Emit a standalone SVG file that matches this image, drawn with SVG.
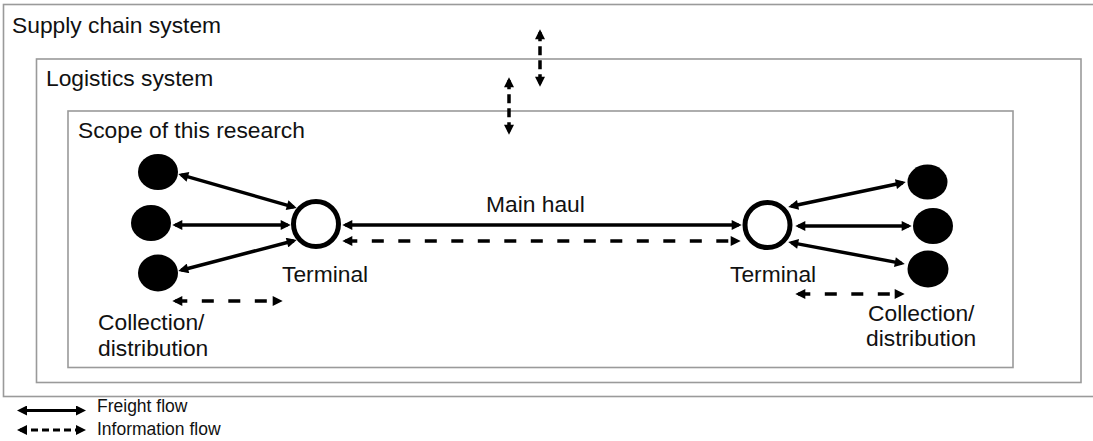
<svg xmlns="http://www.w3.org/2000/svg" width="1093" height="441" viewBox="0 0 1093 441">
  <style>
    .box { fill: none; stroke: #9a9a9a; stroke-width: 1.6; }
    .lbl { font-family: "Liberation Sans", Arial, sans-serif; font-size: 22.8px; fill: #111; }
    .leg { font-family: "Liberation Sans", Arial, sans-serif; font-size: 17.5px; fill: #111; }
    .solid { stroke: #000; stroke-width: 3.5; fill: none; marker-start: url(#ah); marker-end: url(#ah); }
    .dash { stroke: #000; stroke-width: 3.5; fill: none; stroke-dasharray: 12 14.5; marker-start: url(#ah); marker-end: url(#ah); }
    .vdash { stroke: #000; stroke-width: 3.5; fill: none; stroke-dasharray: 9 5; marker-start: url(#ah); marker-end: url(#ah); }
    .ldash { stroke: #000; stroke-width: 3.2; fill: none; stroke-dasharray: 7 4; marker-start: url(#ah); marker-end: url(#ah); }
    .node { fill: #000; }
    .term { fill: #fff; stroke: #000; stroke-width: 5; }
  </style>
  <defs>
    <marker id="ah" viewBox="0 0 10 10" markerUnits="userSpaceOnUse" markerWidth="11" markerHeight="10" refX="7" refY="5" orient="auto-start-reverse">
      <path d="M0,0 L10,5 L0,10 z" fill="#000"/>
    </marker>
  </defs>

  <g id="supply-chain-system">
    <rect class="box" x="3.5" y="4.5" width="1100" height="392"/>
    <text class="lbl" x="12" y="33">Supply chain system</text>
  </g>
  <g id="logistics-system">
    <rect class="box" x="36.5" y="59" width="1044.5" height="323.5"/>
    <text class="lbl" x="46" y="86">Logistics system</text>
  </g>
  <g id="scope">
    <rect class="box" x="68" y="111" width="945" height="256.5"/>
    <text class="lbl" x="78" y="138">Scope of this research</text>
  </g>

  <g id="connectors">
    <line class="vdash" x1="540" y1="32.3" x2="540" y2="83.7"/>
    <line class="vdash" x1="509" y1="80.3" x2="509" y2="131.7"/>
    <line class="solid" x1="181.2" y1="174.9" x2="293.8" y2="207.1"/>
    <line class="solid" x1="175.3" y1="225" x2="287.7" y2="225"/>
    <line class="solid" x1="181.2" y1="270.2" x2="293.8" y2="240.8"/>
    <line class="solid" x1="345.3" y1="225" x2="738.7" y2="225"/>
    <line class="dash" x1="345.3" y1="241" x2="737.7" y2="241"/>
    <line class="solid" x1="791.2" y1="206.3" x2="902.8" y2="182.7"/>
    <line class="solid" x1="798.3" y1="226" x2="908.7" y2="226"/>
    <line class="solid" x1="791.2" y1="242.6" x2="901.8" y2="263.4"/>
    <line class="dash" x1="175.3" y1="301" x2="279.7" y2="301"/>
    <line class="dash" x1="798.3" y1="294" x2="901.7" y2="294"/>
  </g>

  <g id="source-nodes-left">
    <ellipse class="node" cx="158" cy="172" rx="20" ry="18"/>
    <ellipse class="node" cx="151" cy="223" rx="20" ry="18"/>
    <ellipse class="node" cx="158" cy="273" rx="20" ry="18.5"/>
  </g>
  <g id="terminal-left">
    <circle class="term" cx="316" cy="224" r="22.5"/>
    <text class="lbl" x="282" y="282">Terminal</text>
  </g>
  <g id="terminal-right">
    <circle class="term" cx="767.5" cy="225" r="22.5"/>
    <text class="lbl" x="730" y="282">Terminal</text>
  </g>
  <g id="dest-nodes-right">
    <ellipse class="node" cx="927.5" cy="182" rx="20" ry="17.5"/>
    <ellipse class="node" cx="933" cy="226" rx="20" ry="18"/>
    <ellipse class="node" cx="928" cy="269" rx="20.5" ry="18.5"/>
  </g>

  <g id="main-haul-label">
    <text class="lbl" x="486" y="212">Main haul</text>
  </g>
  <g id="collection-left">
    <text class="lbl" x="98" y="330">Collection/</text>
    <text class="lbl" x="98" y="356">distribution</text>
  </g>
  <g id="collection-right">
    <text class="lbl" x="868" y="321">Collection/</text>
    <text class="lbl" x="866" y="346">distribution</text>
  </g>

  <g id="legend">
    <line class="solid" x1="20" y1="410.5" x2="83" y2="410.5" style="stroke-width:3.2"/>
    <line class="ldash" x1="20" y1="430" x2="83" y2="430"/>
    <text class="leg" x="97" y="412">Freight flow</text>
    <text class="leg" x="97" y="435">Information flow</text>
  </g>
</svg>
